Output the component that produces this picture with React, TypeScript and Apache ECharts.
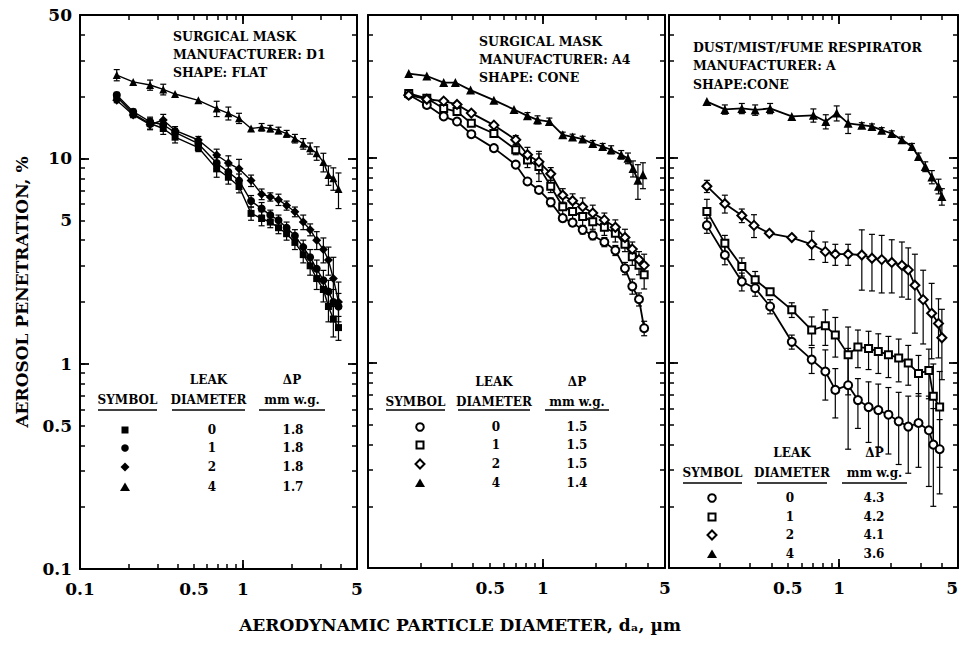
import React, { useEffect, useRef } from 'react';
import * as echarts from 'echarts';

const FONT = '"DejaVu Serif", "Liberation Serif", serif';

// ---------- axis ticks and tick labels ----------
const X_TICKS = [0.1, 0.2, 0.3, 0.4, 0.5, 0.6, 0.7, 0.8, 0.9, 1, 2, 3, 4, 5];
const Y_TICKS = [0.1, 0.2, 0.3, 0.4, 0.5, 0.6, 0.7, 0.8, 0.9, 1, 2, 3, 4, 5, 6, 7, 8, 9, 10, 20, 30, 40, 50];
const X_MAJOR_TICKS = [1];
const Y_MAJOR_TICKS = [1, 10];
const X_LABELS_FIRST = [0.1, 0.5, 1, 5];
const X_LABELS_OTHER = [0.5, 1, 5];
const Y_LABELS = [0.1, 0.5, 1, 5, 10, 50];

// ---------- panel 1: surgical mask D1, flat ----------
const P1_X = [0.168, 0.212, 0.269, 0.324, 0.383, 0.532, 0.689, 0.813, 0.945, 1.12, 1.30, 1.47, 1.65, 1.85, 2.08, 2.34, 2.58, 2.83, 3.11, 3.34, 3.58, 3.85];
const P1_SQUARE = [20.0, 16.5, 14.8, 14.0, 12.7, 11.3, 8.9, 8.1, 7.3, 5.4, 5.1, 4.9, 4.6, 4.3, 3.9, 3.4, 3.0, 2.6, 2.3, 1.9, 1.65, 1.5];
const P1_SQUARE_ERR = [0.8, 0.6, 0.9, 0.9, 0.8, 0.5, 0.8, 0.6, 0.5, 0.4, 0.4, 0.3, 0.3, 0.3, 0.3, 0.3, 0.3, 0.3, 0.3, 0.3, 0.3, 0.2];
const P1_CIRCLE = [20.4, 16.9, 15.1, 14.6, 13.4, 11.8, 9.5, 8.6, 7.8, 6.2, 5.7, 5.3, 5.0, 4.6, 4.2, 3.7, 3.3, 2.9, 2.55, 2.25, 2.0, 1.9];
const P1_CIRCLE_ERR = [0.6, 0.5, 0.8, 0.9, 0.6, 0.5, 0.6, 0.6, 0.6, 0.4, 0.4, 0.3, 0.3, 0.3, 0.3, 0.3, 0.3, 0.3, 0.3, 0.3, 0.3, 0.3];
const P1_DIAMOND = [19.2, 16.3, 14.6, 15.4, 13.7, 12.3, 10.4, 9.5, 8.9, 7.8, 6.7, 6.5, 6.3, 5.9, 5.5, 4.9, 4.5, 4.0, 3.6, 3.2, 2.6, 2.0];
const P1_DIAMOND_ERR = [0.5, 0.5, 0.8, 1.0, 0.6, 0.5, 0.7, 0.8, 1.0, 0.5, 0.4, 0.3, 0.4, 0.3, 0.3, 0.4, 0.3, 0.4, 0.5, 0.5, 0.7, 0.5];
const P1_TRIANGLE = [25.5, 23.6, 22.8, 21.7, 20.6, 19.2, 17.5, 16.6, 15.7, 14.0, 14.2, 14.0, 13.7, 13.2, 12.5, 11.8, 11.2, 10.6, 9.6, 8.3, 8.0, 7.1];
const P1_TRIANGLE_ERR = [1.6, 0, 1.3, 1.3, 0, 0, 1.5, 1.2, 0.9, 0, 0.6, 0.5, 0.5, 0.5, 0.6, 0.7, 0.7, 0.8, 1.0, 0.9, 1.0, 1.4];

// ---------- panel 2: surgical mask A4, cone ----------
const P2_X = [0.171, 0.217, 0.271, 0.323, 0.39, 0.525, 0.70, 0.817, 0.95, 1.11, 1.30, 1.48, 1.69, 1.93, 2.25, 2.60, 2.95, 3.25, 3.55, 3.80];
const P2_CIRCLE = [20.4, 18.2, 16.0, 15.1, 13.1, 11.2, 9.3, 7.7, 7.0, 6.1, 5.1, 4.85, 4.47, 4.2, 3.9, 3.55, 2.9, 2.37, 2.05, 1.48];
const P2_CIRCLE_ERR = [0, 0, 0, 0, 0, 0, 0, 0, 0, 0.3, 0.2, 0.2, 0.2, 0.2, 0.2, 0.2, 0.2, 0.2, 0.15, 0.12];
const P2_SQUARE = [20.7, 19.6, 17.5, 16.9, 14.8, 13.2, 11.0, 9.8, 9.1, 7.3, 5.8, 5.5, 5.2, 4.9, 4.6, 4.3, 3.8, 3.3, 3.0, 2.7];
const P2_SQUARE_ERR = [0.5, 0, 0, 0, 0, 0, 0.6, 0.8, 1.4, 0.5, 0.6, 0.5, 0.5, 0.4, 0.4, 0.4, 0.3, 0.3, 0.3, 0.4];
const P2_DIAMOND = [20.3, 19.4, 19.0, 18.3, 16.6, 14.5, 12.3, 10.4, 9.6, 8.4, 6.6, 6.2, 5.8, 5.4, 5.0, 4.6, 4.1, 3.6, 3.2, 3.0];
const P2_DIAMOND_ERR = [0, 0, 0, 0, 0, 0, 0.6, 0.9, 1.2, 0.6, 0.5, 0.5, 0.6, 0.5, 0.4, 0.4, 0.4, 0.3, 0.3, 0.4];
const P2_TRI_X = [0.171, 0.217, 0.271, 0.316, 0.386, 0.525, 0.684, 0.817, 0.933, 1.09, 1.30, 1.48, 1.69, 1.93, 2.20, 2.46, 2.81, 3.07, 3.28, 3.50, 3.74];
const P2_TRIANGLE = [25.9, 25.2, 23.4, 23.4, 21.5, 19.2, 17.3, 16.1, 15.4, 15.1, 13.0, 12.7, 12.4, 11.8, 11.4, 11.0, 10.4, 10.0, 8.9, 7.8, 8.3];
const P2_TRIANGLE_ERR = [0, 0, 0, 0, 0, 0, 0, 0.6, 0.7, 0.6, 0.4, 0.4, 0.4, 0.4, 0.4, 0.5, 0.5, 0.6, 0.8, 1.5, 1.2];

// ---------- panel 3: dust/mist/fume respirator A, cone ----------
const P3_X = [0.167, 0.213, 0.268, 0.321, 0.393, 0.527, 0.69, 0.83, 0.95, 1.13, 1.29, 1.49, 1.70, 1.95, 2.24, 2.55, 2.93, 3.37, 3.58, 3.9];
const P3_CIRCLE = [4.7, 3.37, 2.5, 2.32, 1.89, 1.27, 1.04, 0.91, 0.74, 0.78, 0.66, 0.61, 0.59, 0.56, 0.52, 0.49, 0.51, 0.47, 0.40, 0.38];
const P3_CIRCLE_ERR = [0.4, 0.35, 0.25, 0.2, 0.15, 0.1, 0.15, 0.25, 0.2, 0.4, 0.18, 0.2, 0.2, 0.2, 0.2, 0.2, 0.2, 0.22, 0.2, 0.15];
const P3_SQUARE = [5.5, 3.85, 2.96, 2.55, 2.23, 1.82, 1.45, 1.52, 1.37, 1.10, 1.2, 1.18, 1.14, 1.10, 1.06, 1.0, 0.89, 0.92, 0.69, 0.61];
const P3_SQUARE_ERR = [0.8, 0.35, 0.3, 0.25, 0, 0.15, 0.23, 0.3, 0.3, 0.4, 0.25, 0.25, 0.25, 0.25, 0.25, 0.22, 0.2, 0.25, 0.3, 0.3];
const P3_DIA_X = [0.167, 0.213, 0.268, 0.316, 0.389, 0.527, 0.69, 0.83, 0.95, 1.13, 1.36, 1.56, 1.78, 2.04, 2.34, 2.55, 2.79, 3.12, 3.5, 3.84, 4.02];
const P3_DIAMOND = [7.3, 6.0, 5.25, 4.7, 4.3, 4.1, 3.8, 3.5, 3.4, 3.4, 3.37, 3.25, 3.2, 3.1, 3.0, 2.85, 2.4, 2.04, 1.75, 1.56, 1.33];
const P3_DIAMOND_ERR = [0.5, 0.6, 0.4, 0.6, 0, 0, 0.6, 0.4, 0.4, 0.4, 1.1, 1.0, 1.0, 0.9, 0.9, 0.8, 1.0, 0.8, 0.7, 0.5, 0.5];
const P3_TRI_X = [0.167, 0.213, 0.268, 0.321, 0.393, 0.527, 0.706, 0.835, 0.968, 1.13, 1.36, 1.56, 1.78, 2.04, 2.34, 2.68, 2.93, 3.21, 3.51, 3.84, 4.02];
const P3_TRIANGLE = [18.9, 17.3, 17.5, 17.2, 17.5, 16.0, 16.2, 15.1, 16.6, 14.8, 14.5, 14.3, 13.7, 13.2, 12.3, 11.4, 10.2, 9.1, 8.1, 7.3, 6.5];
const P3_TRIANGLE_ERR = [0, 0.9, 1.0, 1.0, 1.0, 0, 1.2, 1.2, 1.4, 1.6, 0.4, 0.4, 0.4, 0.4, 0.4, 0.4, 0.4, 0.5, 0.6, 0.6, 0.6];

// ---------- texts ----------
const TITLES = [
  ['SURGICAL MASK', 'MANUFACTURER: D1', 'SHAPE: FLAT'],
  ['SURGICAL MASK', 'MANUFACTURER: A4', 'SHAPE: CONE'],
  ['DUST/MIST/FUME RESPIRATOR', 'MANUFACTURER: A', 'SHAPE:CONE'],
];
const LEAK = ['0', '1', '2', '4'];
const DELTA_P = [
  ['1.8', '1.8', '1.8', '1.7'],
  ['1.5', '1.5', '1.5', '1.4'],
  ['4.3', '4.2', '4.1', '3.6'],
];
const Y_TITLE = 'AEROSOL PENETRATION, %';
const X_TITLE = 'AERODYNAMIC PARTICLE DIAMETER, dₐ, µm';

// ---------- layout ----------
const GRID_BOXES = [
  { left: 80, top: 15, width: 277, height: 554 },
  { left: 368, top: 15, width: 297, height: 553 },
  { left: 669, top: 15, width: 289, height: 553 },
];
const TITLE_POS = [
  { x: 173, y: [36, 54, 72] },
  { x: 479, y: [41, 59, 77] },
  { x: 693, y: [47, 65, 84] },
];
const TABLE_POS = [
  { head1: 380, head2: 400, line: 410, rows: [430, 448, 467, 487], sym: 125, leak: 212, dp: 293, ul: [[98, 157], [172, 245], [259, 325]] },
  { head1: 382, head2: 402, line: 410, rows: [427, 445, 464, 483], sym: 420, leak: 496, dp: 577, ul: [[386, 445], [458, 530], [545, 609]] },
  { head1: 453, head2: 473, line: 483, rows: [498, 517, 535, 554], sym: 712, leak: 790, dp: 874, ul: [[683, 742], [757, 827], [842, 907]] },
];

type Spec = { x: number[]; y: number[]; err: number[]; symbol: string; filled: boolean; size: number };

const PANELS: Spec[][] = [
  [
    { x: P1_X, y: P1_SQUARE, err: P1_SQUARE_ERR, symbol: 'rect', filled: true, size: 7 },
    { x: P1_X, y: P1_CIRCLE, err: P1_CIRCLE_ERR, symbol: 'circle', filled: true, size: 8 },
    { x: P1_X, y: P1_DIAMOND, err: P1_DIAMOND_ERR, symbol: 'diamond', filled: true, size: 9 },
    { x: P1_X, y: P1_TRIANGLE, err: P1_TRIANGLE_ERR, symbol: 'triangle', filled: true, size: 8 },
  ],
  [
    { x: P2_X, y: P2_CIRCLE, err: P2_CIRCLE_ERR, symbol: 'circle', filled: false, size: 8 },
    { x: P2_X, y: P2_SQUARE, err: P2_SQUARE_ERR, symbol: 'rect', filled: false, size: 7 },
    { x: P2_X, y: P2_DIAMOND, err: P2_DIAMOND_ERR, symbol: 'diamond', filled: false, size: 9 },
    { x: P2_TRI_X, y: P2_TRIANGLE, err: P2_TRIANGLE_ERR, symbol: 'triangle', filled: true, size: 9 },
  ],
  [
    { x: P3_X, y: P3_CIRCLE, err: P3_CIRCLE_ERR, symbol: 'circle', filled: false, size: 8 },
    { x: P3_X, y: P3_SQUARE, err: P3_SQUARE_ERR, symbol: 'rect', filled: false, size: 7 },
    { x: P3_DIA_X, y: P3_DIAMOND, err: P3_DIAMOND_ERR, symbol: 'diamond', filled: false, size: 9 },
    { x: P3_TRI_X, y: P3_TRIANGLE, err: P3_TRIANGLE_ERR, symbol: 'triangle', filled: true, size: 9 },
  ],
];

const fmt = (v: number) => String(Number(Number(v).toPrecision(2)));

function mkX(g: number, pos: string, labels: number[] | null, alignMax = false) {
  return {
    type: 'log', logBase: 10, gridIndex: g, position: pos, min: 0.1, max: 5,
    axisLine: { show: true, onZero: false, lineStyle: { color: '#000', width: 2 } },
    axisTick: { show: true, inside: true, length: 5, customValues: X_TICKS, lineStyle: { color: '#000', width: 1.5 } },
    axisLabel: labels
      ? {
          show: true, customValues: labels, formatter: fmt, color: '#000', fontFamily: FONT, fontWeight: 'bold', fontSize: 17, margin: 11,
          ...(alignMax ? { alignMaxLabel: 'right' } : {}),
        }
      : { show: false },
    splitLine: { show: false },
    minorTick: { show: false },
  };
}
function mkY(g: number, pos: string, labels: number[] | null) {
  return {
    type: 'log', logBase: 10, gridIndex: g, position: pos, min: 0.1, max: 50,
    axisLine: { show: true, onZero: false, lineStyle: { color: '#000', width: 2 } },
    axisTick: { show: true, inside: true, length: 5, customValues: Y_TICKS, lineStyle: { color: '#000', width: 1.5 } },
    axisLabel: labels
      ? { show: true, customValues: labels, formatter: fmt, color: '#000', fontFamily: FONT, fontWeight: 'bold', fontSize: 17, margin: 8 }
      : { show: false },
    splitLine: { show: false },
    minorTick: { show: false },
  };
}
function mkMajorX(g: number, pos: string) {
  return {
    type: 'log', logBase: 10, gridIndex: g, position: pos, min: 0.1, max: 5,
    axisLine: { show: false, onZero: false },
    axisTick: { show: true, inside: true, length: 9, customValues: X_MAJOR_TICKS, lineStyle: { color: '#000', width: 1.8 } },
    axisLabel: { show: false },
    splitLine: { show: false },
  };
}
function mkMajorY(g: number, pos: string) {
  return {
    type: 'log', logBase: 10, gridIndex: g, position: pos, min: 0.1, max: 50,
    axisLine: { show: false, onZero: false },
    axisTick: { show: true, inside: true, length: 9, customValues: Y_MAJOR_TICKS, lineStyle: { color: '#000', width: 1.8 } },
    axisLabel: { show: false },
    splitLine: { show: false },
  };
}

function errRender(params: any, api: any) {
  const x = api.value(0);
  const lo = api.value(1);
  const hi = api.value(2);
  const a = api.coord([x, hi]);
  const b = api.coord([x, lo]);
  const w = 3;
  const st = { stroke: '#000', lineWidth: 1.2 };
  return {
    type: 'group',
    children: [
      { type: 'line', shape: { x1: a[0], y1: a[1], x2: b[0], y2: b[1] }, style: st },
      { type: 'line', shape: { x1: a[0] - w, y1: a[1], x2: a[0] + w, y2: a[1] }, style: st },
      { type: 'line', shape: { x1: b[0] - w, y1: b[1], x2: b[0] + w, y2: b[1] }, style: st },
    ],
  };
}

function legendSymbol(kind: string, filled: boolean, cx: number, cy: number) {
  const style = filled ? { fill: '#000' } : { fill: '#fff', stroke: '#000', lineWidth: 2 };
  if (kind === 'rect') return { type: 'rect', shape: { x: cx - 3.5, y: cy - 3.5, width: 7, height: 7 }, style };
  if (kind === 'circle') return { type: 'circle', shape: { cx, cy, r: 3.8 }, style };
  if (kind === 'diamond') return { type: 'polygon', shape: { points: [[cx, cy - 4.5], [cx + 4.5, cy], [cx, cy + 4.5], [cx - 4.5, cy]] }, style };
  return { type: 'polygon', shape: { points: [[cx, cy - 4.5], [cx + 5, cy + 4], [cx - 5, cy + 4]] }, style };
}

function txt(text: string, x: number, y: number, size: number, align = 'center', extra: any = {}) {
  return {
    type: 'text', x, y, ...extra,
    style: {
      text, fill: '#000', fontFamily: FONT, fontWeight: 'bold', fontSize: size,
      font: `bold ${size}px ${FONT}`,
      align, textAlign: align, verticalAlign: 'middle', textVerticalAlign: 'middle',
    },
  };
}

function buildOption() {
  const xAxes: any[] = [];
  const yAxes: any[] = [];
  GRID_BOXES.forEach((_, g) => {
    xAxes.push(mkX(g, 'bottom', g === 0 ? X_LABELS_FIRST : X_LABELS_OTHER, g === 2));
    xAxes.push(mkX(g, 'top', null));
    yAxes.push(mkY(g, 'left', g === 0 ? Y_LABELS : null));
    yAxes.push(mkY(g, 'right', null));
  });
  // major (longer) ticks, appended after the main axes
  GRID_BOXES.forEach((_, g) => {
    xAxes.push(mkMajorX(g, 'bottom'));
    xAxes.push(mkMajorX(g, 'top'));
    yAxes.push(mkMajorY(g, 'left'));
    yAxes.push(mkMajorY(g, 'right'));
  });

  const series: any[] = [];
  PANELS.forEach((specs, g) => {
    specs.forEach((s) => {
      series.push({
        type: 'custom',
        xAxisIndex: g * 2,
        yAxisIndex: g * 2,
        silent: true,
        z: 2,
        encode: { x: 0, y: [1, 2] },
        renderItem: errRender,
        data: s.x
          .map((xv, i) => [xv, s.y[i] - s.err[i], s.y[i] + s.err[i]])
          .filter((_, i) => s.err[i] > 0),
      });
      series.push({
        type: 'line',
        xAxisIndex: g * 2,
        yAxisIndex: g * 2,
        z: 3,
        silent: true,
        data: s.x.map((xv, i) => [xv, s.y[i]]),
        symbol: s.symbol,
        symbolSize: s.size,
        showSymbol: true,
        lineStyle: { color: '#000', width: g === 0 ? 1.4 : 1.8 },
        itemStyle: s.filled
          ? { color: '#000', borderWidth: 0 }
          : { color: '#fff', borderColor: '#000', borderWidth: 2 },
        emphasis: { disabled: true },
      });
    });
  });

  const graphic: any[] = [];
  TITLES.forEach((lines, g) => {
    lines.forEach((t, i) => graphic.push(txt(t, TITLE_POS[g].x, TITLE_POS[g].y[i], 12.5, 'left')));
  });
  TABLE_POS.forEach((p, g) => {
    const cols = [(p.ul[0][0] + p.ul[0][1]) / 2, (p.ul[1][0] + p.ul[1][1]) / 2, (p.ul[2][0] + p.ul[2][1]) / 2];
    graphic.push(txt('LEAK', cols[1], p.head1, 12));
    graphic.push(txt('ΔP', cols[2], p.head1, 12));
    graphic.push(txt('SYMBOL', cols[0], p.head2, 12));
    graphic.push(txt('DIAMETER', cols[1], p.head2, 12));
    graphic.push(txt('mm w.g.', cols[2], p.head2, 12));
    p.ul.forEach(([a, b]) => graphic.push({ type: 'line', shape: { x1: a, y1: p.line, x2: b, y2: p.line }, style: { stroke: '#000', lineWidth: 1.5 } }));
    PANELS[g].forEach((s, i) => {
      graphic.push(legendSymbol(s.symbol, s.filled, p.sym, p.rows[i]));
      graphic.push(txt(LEAK[i], p.leak, p.rows[i], 12));
      graphic.push(txt(DELTA_P[g][i], p.dp, p.rows[i], 12));
    });
  });
  graphic.push(txt(Y_TITLE, 22, 292, 17, 'center', { rotation: Math.PI / 2 }));
  graphic.push(txt(X_TITLE, 460, 625, 17, 'center'));

  return {
    animation: false,
    backgroundColor: '#fff',
    grid: GRID_BOXES.map((b) => ({ ...b, containLabel: false, outerBoundsMode: 'none' })),
    xAxis: xAxes,
    yAxis: yAxes,
    series,
    graphic,
  };
}

export default function App() {
  const ref = useRef<HTMLDivElement>(null);
  useEffect(() => {
    if (!ref.current) return;
    const chart = echarts.init(ref.current, null, { renderer: 'svg' });
    chart.setOption(buildOption() as any);
    return () => chart.dispose();
  }, []);
  return <div ref={ref} style={{ position: 'fixed', left: 0, top: 0, width: 961, height: 647, background: '#fff' }} />;
}
